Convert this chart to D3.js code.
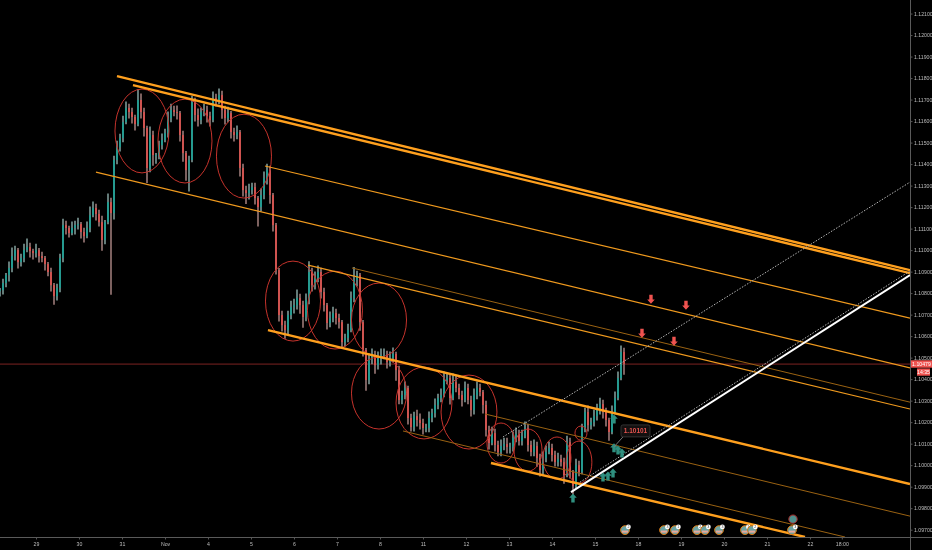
<!DOCTYPE html>
<html>
<head>
<meta charset="utf-8">
<script src="https://cdn.jsdelivr.net/npm/d3@7"></script>
<style>
  html, body { margin: 0; background: #000; }
  svg { display: block; filter: blur(0.3px); }
  text { font-family: "Liberation Sans", Arial, sans-serif; }
</style>
</head>
<body>
<svg id="chart" width="932" height="550"></svg>
<script>
// session numbers: 0 = the "29" label, one trading day = 1
const sessionLabels = ["29", "30", "31", "Nov", "4", "5", "6", "7", "8", "11", "12", "13", "14", "15", "18", "19", "20", "21", "22"];
const extraTime = { session: 18.74, label: "18:00" };
const priceTicks = [1.121, 1.12, 1.119, 1.118, 1.117, 1.116, 1.115, 1.114, 1.113, 1.112, 1.111, 1.11, 1.109, 1.108, 1.107, 1.106, 1.105, 1.104, 1.103, 1.102, 1.101, 1.1, 1.099, 1.098, 1.097];

const firstCandle = -0.837;
const candleStep = 3 / 43;

const closes = [
  1.10814,1.10847,1.10884,1.10917,1.10972,1.11000,1.10944,1.10963,1.11000,1.11014,
  1.10996,1.10986,1.11000,1.10972,1.10963,1.10935,1.10898,1.10837,1.10786,1.10824,
  1.10963,1.11116,1.11103,1.11079,1.11103,1.11116,1.11121,1.11084,1.11065,1.11103,
  1.11163,1.11196,1.11168,1.11130,1.11047,1.11130,1.11223,1.11172,1.11419,1.11479,
  1.11521,1.11595,1.11661,1.11642,1.11619,1.11586,1.11698,1.11642,1.11568,1.11382,
  1.11535,1.11442,1.11442,1.11488,1.11512,1.11544,1.11614,1.11651,1.11642,1.11637,
  1.11535,1.11451,1.11372,1.11419,1.11688,1.11628,1.11605,1.11642,1.11651,1.11623,
  1.11605,1.11707,1.11698,1.11721,1.11651,1.11614,1.11637,1.11549,1.11535,1.11549,
  1.11382,1.11279,1.11265,1.11279,1.11293,1.11242,1.11200,1.11256,1.11335,1.11372,
  1.11256,1.11116,1.10907,1.10698,1.10651,1.10628,1.10698,1.10735,1.10744,1.10777,
  1.10744,1.10689,1.10768,1.10898,1.10837,1.10870,1.10898,1.10805,1.10744,1.10661,
  1.10684,1.10707,1.10684,1.10665,1.10572,1.10591,1.10628,1.10777,1.10861,1.10884,
  1.10665,1.10535,1.10396,1.10489,1.10512,1.10465,1.10498,1.10512,1.10512,1.10479,
  1.10498,1.10517,1.10442,1.10303,1.10326,1.10359,1.10219,1.10177,1.10228,1.10210,
  1.10196,1.10173,1.10173,1.10219,1.10242,1.10280,1.10312,1.10326,1.10396,1.10405,
  1.10312,1.10386,1.10359,1.10326,1.10303,1.10359,1.10303,1.10256,1.10326,1.10359,
  1.10340,1.10280,1.10163,1.10103,1.10149,1.10094,1.10061,1.10089,1.10098,1.10084,
  1.10084,1.10126,1.10145,1.10112,1.10135,1.10173,1.10094,1.10061,1.10089,1.10033,
  1.09977,1.10033,1.10061,1.10080,1.10047,1.10014,1.10028,1.10014,1.09954,1.10107,
  1.09968,1.09903,1.10000,1.09968,1.10173,1.10247,1.10186,1.10200,1.10228,1.10256,
  1.10284,1.10247,1.10210,1.10154,1.10247,1.10312,1.10405,1.10526,1.10470
];

// wick lengths in pips above / below the candle body
const wickUp = [
  1,2,1,3,4,2,1,2,3,4, 2,1,3,1,2,1,1,2,1,2,
  2,3,2,1,3,2,3,1,2,3, 4,3,2,2,3,1,4,2,2,3,
  2,3,3,2,2,1,5,3,2,1, 4,2,1,2,3,2,3,3,2,3,
  1,2,1,2,3,2,3,2,3,2, 2,3,2,3,2,2,3,1,2,3,
  1,2,2,3,2,2,1,3,3,3, 2,1,1,1,2,2,2,3,3,4,
  2,2,3,5,2,3,3,2,2,1, 3,3,2,2,1,2,3,3,6,2,
  1,1,1,3,3,2,3,3,3,2, 3,3,1,2,2,3,1,2,2,3,
  3,2,2,3,2,3,2,3,4,2, 2,4,3,2,2,3,2,2,3,3,
  2,1,2,2,3,2,2,3,3,3, 2,3,3,2,3,3,2,2,3,2,
  2,3,3,3,2,2,3,2,2,3, 2,1,3,2,2,2,3,2,3,3,
  3,2,2,1,3,3,3,3,2
];
const wickDown = [
  3,2,2,3,2,2,3,2,2,1, 3,3,2,3,2,3,2,3,4,2,
  2,2,3,2,1,3,2,3,3,1, 2,1,3,2,5,2,1,38,3,2,
  2,2,1,3,3,3,1,3,4,7, 2,5,4,2,2,1,2,2,2,3,
  3,4,5,10,1,3,3,2,2,3, 3,1,3,2,4,3,2,3,3,2,
  4,3,5,3,2,3,9,2,2,3, 4,3,2,3,3,4,2,2,3,2,
  4,5,2,2,3,2,2,3,3,3, 2,2,3,3,3,2,2,1,2,3,
  4,3,5,2,2,4,2,3,2,3, 2,2,5,2,2,2,3,2,2,3,
  3,3,2,2,2,2,2,2,1,2, 3,1,2,2,3,1,2,3,2,2,
  2,4,3,3,1,3,2,2,2,3, 3,2,2,2,2,1,3,2,2,4,
  3,2,2,1,3,2,2,2,4,1, 3,4,1,2,1,2,3,2,2,2,
  2,3,3,4,1,1,1,1,5
];

// trend lines: [session, price, session, price]
const heavyLines = [
  [1.884, 1.11809, 20.326, 1.10907],
  [2.256, 1.11767, 20.326, 1.10893],
  [5.395, 1.10628, 20.326, 1.09912],
  [10.581, 1.10010, 17.884, 1.09666]
];
const mediumLines = [
  [1.395, 1.11363, 20.326, 1.10452],
  [5.326, 1.11391, 20.326, 1.10684],
  [6.326, 1.10930, 20.326, 1.10261]
];
const thinLines = [
  [7.349, 1.10917, 20.326, 1.10293],
  [8.535, 1.10159, 18.814, 1.09666],
  [10.442, 1.10238, 20.326, 1.09763]
];
const whiteLine = [12.442, 1.09875, 20.326, 1.10884];
const dottedLines = [
  [10.860, 1.10131, 20.326, 1.11316],
  [12.651, 1.09921, 20.326, 1.10903]
];

// hand drawn ellipses: [session, price, half width in sessions, half height in price]
const ellipses = [
  [2.465, 1.11554, 0.628, 0.00195],
  [3.465, 1.11507, 0.628, 0.00195],
  [4.837, 1.11437, 0.640, 0.00195],
  [5.977, 1.10763, 0.640, 0.00186],
  [6.953, 1.10721, 0.640, 0.00181],
  [7.977, 1.10675, 0.640, 0.00172],
  [7.977, 1.10335, 0.640, 0.00167],
  [9.023, 1.10289, 0.650, 0.00167],
  [10.07, 1.10247, 0.650, 0.00172],
  [10.814, 1.10103, 0.326, 0.00093],
  [11.442, 1.10070, 0.326, 0.00098],
  [12.116, 1.10033, 0.326, 0.00098],
  [12.628, 1.10014, 0.300, 0.00098],
  [12.674, 1.10149, 0.140, 0.00033]
];

const buyArrows = [[12.488, 1.09847], [13.186, 1.09945], [13.302, 1.09949], [13.419, 1.09963], [13.442, 1.10080], [13.535, 1.10070], [13.628, 1.10056], [13.442, 1.10214]];
const sellArrows = [[14.302, 1.10772], [15.116, 1.10744], [14.093, 1.10614], [14.837, 1.10577]];

const lastPrice = 1.1047;
const lastPriceLabel = "1.10479";
const countdownLabel = "14:35";
const callout = { session: 13.442, price: 1.10085, label: "1.10101" };

// economic event bubbles along the bottom
const eventSessions = [13.698, 14.605, 14.860, 15.372, 15.558, 15.884, 16.488, 16.651, 17.581];
const eventCounts = ["2", "3", "1", "2", "3", "3", "1", "2", "3"];
const eventPrice = 1.09698;
const flagEvent = [17.605, 1.09749];

const svg = d3.select("#chart");
const plotRight = 910;
const plotBottom = 537;

const x = d3.scaleLinear().domain([firstCandle, 20.326]).range([0, plotRight]);
const y = d3.scaleLinear().domain([1.12163, 1.09666]).range([0, plotBottom]);

svg.append("clipPath").attr("id", "plot")
  .append("rect").attr("width", plotRight).attr("height", plotBottom);

const plot = svg.append("g").attr("clip-path", "url(#plot)");

// last price line goes under the candles
plot.append("line")
  .attr("x1", 0).attr("x2", plotRight)
  .attr("y1", y(lastPrice)).attr("y2", y(lastPrice))
  .attr("stroke", "#7d2322").attr("stroke-width", 1);

// candles
const candles = closes.map((close, i) => {
  const open = i ? closes[i - 1] : close;
  return {
    session: firstCandle + i * candleStep,
    open: open,
    close: close,
    high: Math.max(open, close) + wickUp[i] * 0.0001,
    low: Math.min(open, close) - wickDown[i] * 0.0001
  };
});

plot.selectAll(".wick")
  .data(candles)
  .enter()
  .append("line")
  .attr("class", "wick")
  .attr("x1", d => x(d.session))
  .attr("x2", d => x(d.session))
  .attr("y1", d => y(d.high))
  .attr("y2", d => y(d.low))
  .attr("stroke", d => d.close >= d.open ? "#7d9a97" : "#9c7a78")
  .attr("stroke-width", 1.6);

plot.selectAll(".body")
  .data(candles)
  .enter()
  .append("rect")
  .attr("class", "body")
  .attr("x", d => x(d.session) - 0.9)
  .attr("width", 1.8)
  .attr("y", d => y(Math.max(d.open, d.close)))
  .attr("height", d => Math.max(1, Math.abs(y(d.open) - y(d.close))))
  .attr("fill", d => d.close >= d.open ? "#1f9e93" : "#d9534f");

// ellipses
plot.selectAll(".ring")
  .data(ellipses)
  .enter()
  .append("ellipse")
  .attr("class", "ring")
  .attr("cx", d => x(d[0]))
  .attr("cy", d => y(d[1]))
  .attr("rx", d => x(d[0] + d[2]) - x(d[0]))
  .attr("ry", d => y(d[1] - d[3]) - y(d[1]))
  .attr("fill", "none")
  .attr("stroke", "#c5332c")
  .attr("stroke-width", 1);

function drawLines(rows, color, width, dash) {
  plot.selectAll(null)
    .data(rows)
    .enter()
    .append("line")
    .attr("x1", d => x(d[0]))
    .attr("y1", d => y(d[1]))
    .attr("x2", d => x(d[2]))
    .attr("y2", d => y(d[3]))
    .attr("stroke", color)
    .attr("stroke-width", width)
    .attr("stroke-dasharray", dash || null);
}

drawLines(thinLines, "#9a6212", 1);
drawLines(mediumLines, "#f09a1e", 1.2);
drawLines(heavyLines, "#ffa01e", 2.4);
drawLines(dottedLines, "#b5b5b5", 1, "1.5 1.5");
drawLines([whiteLine], "#ffffff", 2);

// arrows
const arrowPath = "M0,-4.6 L3.8,-0.4 L1.7,-0.4 L1.7,4.4 L-1.7,4.4 L-1.7,-0.4 L-3.8,-0.4 Z";

plot.selectAll(".buy")
  .data(buyArrows)
  .enter()
  .append("path")
  .attr("class", "buy")
  .attr("d", arrowPath)
  .attr("transform", d => `translate(${x(d[0])},${y(d[1])})`)
  .attr("fill", "#2f8f7f");

plot.selectAll(".sell")
  .data(sellArrows)
  .enter()
  .append("path")
  .attr("class", "sell")
  .attr("d", arrowPath)
  .attr("transform", d => `translate(${x(d[0])},${y(d[1])}) rotate(180)`)
  .attr("fill", "#ef5350");

// price callout
const calloutG = svg.append("g");
calloutG.append("line")
  .attr("x1", x(callout.session))
  .attr("y1", y(callout.price))
  .attr("x2", x(callout.session) + 9)
  .attr("y2", y(callout.price) - 10)
  .attr("stroke", "#777").attr("stroke-width", 1);
calloutG.append("rect")
  .attr("x", x(callout.session) + 7)
  .attr("y", y(callout.price) - 22)
  .attr("width", 29).attr("height", 12).attr("rx", 2)
  .attr("fill", "#141010").attr("stroke", "#444").attr("stroke-width", 0.7);
calloutG.append("text")
  .attr("x", x(callout.session) + 21.5)
  .attr("y", y(callout.price) - 13.6)
  .attr("text-anchor", "middle")
  .attr("fill", "#e5544f")
  .style("font-size", "6.5px")
  .style("font-weight", "bold")
  .text(callout.label);

// event bubbles
const events = plot.selectAll(".event")
  .data(eventSessions)
  .enter()
  .append("g")
  .attr("class", "event")
  .attr("transform", d => `translate(${x(d)},${y(eventPrice)})`);

events.append("circle")
  .attr("r", 4.4)
  .attr("fill", "#6ba3a3")
  .attr("stroke", "#d9760f")
  .attr("stroke-width", 1);
events.append("rect")
  .attr("x", -3).attr("y", 0.5).attr("width", 6).attr("height", 2)
  .attr("fill", "#e9a79a");
events.append("circle")
  .attr("cx", 3.4).attr("cy", -3.2).attr("r", 2.4)
  .attr("fill", "#fff");
events.append("text")
  .attr("x", 3.4).attr("y", -1.9)
  .attr("text-anchor", "middle")
  .attr("fill", "#333")
  .style("font-size", "3.6px")
  .text((d, i) => eventCounts[i]);

plot.append("circle")
  .attr("cx", x(flagEvent[0]))
  .attr("cy", y(flagEvent[1]))
  .attr("r", 4.2)
  .attr("fill", "#4f8f8c")
  .attr("stroke", "#a82525")
  .attr("stroke-width", 1);

// axes
const xAxis = d3.axisBottom(x)
  .tickValues(sessionLabels.map((d, i) => i).concat(extraTime.session))
  .tickFormat((d, i) => sessionLabels[i] || extraTime.label)
  .tickSize(2)
  .tickSizeOuter(0);

const xAxisGroup = svg.append("g")
  .attr("transform", `translate(0,${plotBottom + 0.5})`)
  .call(xAxis);
xAxisGroup.select(".domain").remove();
xAxisGroup.selectAll("text").attr("y", 5).style("font-size", "5.2px").attr("fill", "#bdbdbd");
xAxisGroup.selectAll("line").attr("stroke", "#555");

const yAxis = d3.axisRight(y)
  .tickValues(priceTicks)
  .tickFormat(d3.format(".5f"))
  .tickSize(2)
  .tickSizeOuter(0);

const yAxisGroup = svg.append("g")
  .attr("transform", `translate(${plotRight + 0.5},0)`)
  .call(yAxis);
yAxisGroup.select(".domain").remove();
yAxisGroup.selectAll("text").attr("x", 3.5).style("font-size", "5.2px").attr("fill", "#bdbdbd");
yAxisGroup.selectAll("line").attr("stroke", "#555");

svg.append("line")
  .attr("x1", 0).attr("x2", 932)
  .attr("y1", plotBottom + 0.5).attr("y2", plotBottom + 0.5)
  .attr("stroke", "#5a5a5a");
svg.append("line")
  .attr("x1", plotRight + 0.5).attr("x2", plotRight + 0.5)
  .attr("y1", 0).attr("y2", 550)
  .attr("stroke", "#5a5a5a");

// last price tag and countdown tag, two separate boxes like the platform draws them
svg.append("rect")
  .attr("x", plotRight + 1).attr("y", y(lastPrice) - 3.8)
  .attr("width", 21).attr("height", 7.4)
  .attr("fill", "#ef5350");
svg.append("text")
  .attr("x", plotRight + 11.5).attr("y", y(lastPrice) + 1.8)
  .attr("text-anchor", "middle")
  .attr("fill", "#fff")
  .style("font-size", "5.2px")
  .text(lastPriceLabel);
svg.append("rect")
  .attr("x", plotRight + 7).attr("y", y(lastPrice) + 4.4)
  .attr("width", 13).attr("height", 7.2)
  .attr("fill", "#ef5350");
svg.append("text")
  .attr("x", plotRight + 13.5).attr("y", y(lastPrice) + 9.9)
  .attr("text-anchor", "middle")
  .attr("fill", "#fff")
  .style("font-size", "5.2px")
  .text(countdownLabel);
</script>
</body>
</html>
